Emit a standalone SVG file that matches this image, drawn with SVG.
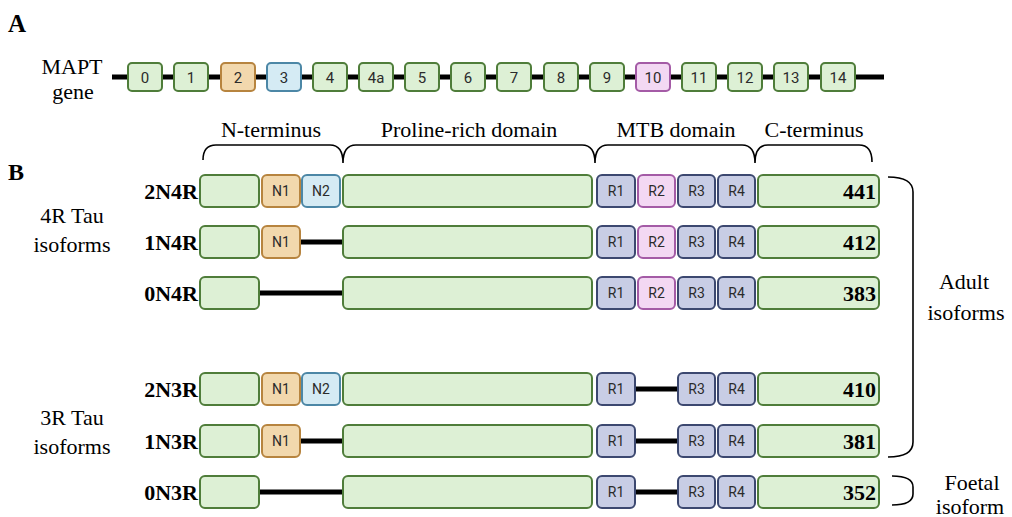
<svg xmlns="http://www.w3.org/2000/svg" width="1012" height="517" viewBox="0 0 1012 517">
<style>
.serif{font-family:"Liberation Serif","Times New Roman",serif;fill:#000}
.lbl{font-size:22px}
.bold{font-weight:bold}
.sans{font-family:Roboto,"Liberation Sans",Arial,sans-serif;font-size:15px;fill:#2b2b2b;text-anchor:middle}
.sm{font-size:14px}
.g{fill:#ddf0d5;stroke:#4f7d3a;stroke-width:2}
.o{fill:#f2d8ad;stroke:#b7843f;stroke-width:2}
.b{fill:#d5ebf4;stroke:#4c87a6;stroke-width:2}
.p{fill:#f3d8f3;stroke:#a45ba6;stroke-width:2}
.r{fill:#c8cde5;stroke:#3c4870;stroke-width:2}
.line{stroke:#000;stroke-width:5;fill:none}
.brace{stroke:#000;stroke-width:1.6;fill:none}
</style>

<text class="serif bold" x="8" y="32" font-size="25">A</text>
<text class="serif bold" x="8" y="180" font-size="24">B</text>

<g id="gene">
<text class="serif lbl" x="72" y="74" text-anchor="middle">MAPT</text>
<text class="serif lbl" x="73" y="99" text-anchor="middle">gene</text>
<line class="line" x1="112" y1="77" x2="884" y2="77"/>
<g id="ex0"><rect class="g" x="128" y="63" width="34" height="28" rx="4"/><text class="sans" x="145" y="82.5">0</text></g>
<g id="ex1"><rect class="g" x="174" y="63" width="34" height="28" rx="4"/><text class="sans" x="191" y="82.5">1</text></g>
<g id="ex2"><rect class="o" x="221" y="63" width="34" height="28" rx="4"/><text class="sans" x="238" y="82.5">2</text></g>
<g id="ex3"><rect class="b" x="267" y="63" width="34" height="28" rx="4"/><text class="sans" x="284" y="82.5">3</text></g>
<g id="ex4"><rect class="g" x="313" y="63" width="34" height="28" rx="4"/><text class="sans" x="330" y="82.5">4</text></g>
<g id="ex4a"><rect class="g" x="359" y="63" width="34" height="28" rx="4"/><text class="sans" x="376" y="82.5">4a</text></g>
<g id="ex5"><rect class="g" x="405" y="63" width="34" height="28" rx="4"/><text class="sans" x="422" y="82.5">5</text></g>
<g id="ex6"><rect class="g" x="451" y="63" width="34" height="28" rx="4"/><text class="sans" x="468" y="82.5">6</text></g>
<g id="ex7"><rect class="g" x="497" y="63" width="34" height="28" rx="4"/><text class="sans" x="514" y="82.5">7</text></g>
<g id="ex8"><rect class="g" x="544" y="63" width="34" height="28" rx="4"/><text class="sans" x="561" y="82.5">8</text></g>
<g id="ex9"><rect class="g" x="590" y="63" width="34" height="28" rx="4"/><text class="sans" x="607" y="82.5">9</text></g>
<g id="ex10"><rect class="p" x="636" y="63" width="34" height="28" rx="4"/><text class="sans" x="653" y="82.5">10</text></g>
<g id="ex11"><rect class="g" x="682" y="63" width="34" height="28" rx="4"/><text class="sans" x="699" y="82.5">11</text></g>
<g id="ex12"><rect class="g" x="728" y="63" width="34" height="28" rx="4"/><text class="sans" x="745" y="82.5">12</text></g>
<g id="ex13"><rect class="g" x="774" y="63" width="34" height="28" rx="4"/><text class="sans" x="791" y="82.5">13</text></g>
<g id="ex14"><rect class="g" x="821" y="63" width="34" height="28" rx="4"/><text class="sans" x="838" y="82.5">14</text></g>
</g>

<g id="domains">
<text class="serif lbl" x="271" y="137" text-anchor="middle">N-terminus</text>
<text class="serif lbl" x="469" y="137" text-anchor="middle">Proline-rich domain</text>
<text class="serif lbl" x="676" y="137" text-anchor="middle">MTB domain</text>
<text class="serif lbl" x="814" y="137" text-anchor="middle">C-terminus</text>
<path class="brace" d="M203,160 Q203,145 216,145 H330 Q343,145 343,163 Q343,145 356,145 H582 Q595,145 595,163 Q595,145 608,145 H742 Q755,145 755,163 Q755,145 768,145 H859 Q872,145 872,162"/>
</g>

<g id="side-labels">
<text class="serif lbl" x="72" y="223" text-anchor="middle">4R Tau</text>
<text class="serif lbl" x="72" y="252" text-anchor="middle">isoforms</text>
<text class="serif lbl" x="72" y="425" text-anchor="middle">3R Tau</text>
<text class="serif lbl" x="72" y="454" text-anchor="middle">isoforms</text>
<text class="serif lbl" x="964" y="289" text-anchor="middle">Adult</text>
<text class="serif lbl" x="966" y="320" text-anchor="middle">isoforms</text>
<text class="serif lbl" x="972" y="490" text-anchor="middle">Foetal</text>
<text class="serif lbl" x="970" y="514" text-anchor="middle">isoform</text>
</g>

<g id="connectors">
<line class="line" x1="300" y1="242" x2="343" y2="242"/>
<line class="line" x1="259" y1="293" x2="343" y2="293"/>
<line class="line" x1="635" y1="389" x2="678" y2="389"/>
<line class="line" x1="300" y1="441" x2="343" y2="441"/>
<line class="line" x1="635" y1="441" x2="678" y2="441"/>
<line class="line" x1="259" y1="492" x2="343" y2="492"/>
<line class="line" x1="635" y1="492" x2="678" y2="492"/>
<path class="brace" d="M888,177 Q913,177 913,192 V442 Q913,457 888,457"/>
<path class="brace" d="M892,476 Q913,476 913,487 V494 Q913,505 892,505"/>
</g>

<g id="iso-2N4R">
<text class="serif lbl bold" x="198" y="199" text-anchor="end">2N4R</text>
<rect class="g" x="200" y="175" width="59" height="32" rx="5"/>
<rect class="o" x="262" y="175" width="38" height="32" rx="5"/><text class="sans sm" x="281" y="196">N1</text>
<rect class="b" x="302" y="175" width="38" height="32" rx="5"/><text class="sans sm" x="321" y="196">N2</text>
<rect class="g" x="343" y="175" width="249" height="32" rx="5"/>
<rect class="r" x="597" y="175" width="38" height="32" rx="5"/><text class="sans sm" x="616" y="196">R1</text>
<rect class="p" x="638" y="175" width="37" height="32" rx="5"/><text class="sans sm" x="656.5" y="196">R2</text>
<rect class="r" x="678" y="175" width="37" height="32" rx="5"/><text class="sans sm" x="696.5" y="196">R3</text>
<rect class="r" x="718" y="175" width="37" height="32" rx="5"/><text class="sans sm" x="736.5" y="196">R4</text>
<rect class="g" x="758" y="175" width="121" height="32" rx="5"/>
<text class="serif lbl bold" x="876" y="199" text-anchor="end">441</text>
</g>

<g id="iso-1N4R">
<text class="serif lbl bold" x="198" y="250" text-anchor="end">1N4R</text>
<rect class="g" x="200" y="226" width="59" height="32" rx="5"/>
<rect class="o" x="262" y="226" width="38" height="32" rx="5"/><text class="sans sm" x="281" y="247">N1</text>
<rect class="g" x="343" y="226" width="249" height="32" rx="5"/>
<rect class="r" x="597" y="226" width="38" height="32" rx="5"/><text class="sans sm" x="616" y="247">R1</text>
<rect class="p" x="638" y="226" width="37" height="32" rx="5"/><text class="sans sm" x="656.5" y="247">R2</text>
<rect class="r" x="678" y="226" width="37" height="32" rx="5"/><text class="sans sm" x="696.5" y="247">R3</text>
<rect class="r" x="718" y="226" width="37" height="32" rx="5"/><text class="sans sm" x="736.5" y="247">R4</text>
<rect class="g" x="758" y="226" width="121" height="32" rx="5"/>
<text class="serif lbl bold" x="876" y="250" text-anchor="end">412</text>
</g>

<g id="iso-0N4R">
<text class="serif lbl bold" x="198" y="301" text-anchor="end">0N4R</text>
<rect class="g" x="200" y="277" width="59" height="32" rx="5"/>
<rect class="g" x="343" y="277" width="249" height="32" rx="5"/>
<rect class="r" x="597" y="277" width="38" height="32" rx="5"/><text class="sans sm" x="616" y="298">R1</text>
<rect class="p" x="638" y="277" width="37" height="32" rx="5"/><text class="sans sm" x="656.5" y="298">R2</text>
<rect class="r" x="678" y="277" width="37" height="32" rx="5"/><text class="sans sm" x="696.5" y="298">R3</text>
<rect class="r" x="718" y="277" width="37" height="32" rx="5"/><text class="sans sm" x="736.5" y="298">R4</text>
<rect class="g" x="758" y="277" width="121" height="32" rx="5"/>
<text class="serif lbl bold" x="876" y="301" text-anchor="end">383</text>
</g>

<g id="iso-2N3R">
<text class="serif lbl bold" x="198" y="397" text-anchor="end">2N3R</text>
<rect class="g" x="200" y="373" width="59" height="32" rx="5"/>
<rect class="o" x="262" y="373" width="38" height="32" rx="5"/><text class="sans sm" x="281" y="394">N1</text>
<rect class="b" x="302" y="373" width="38" height="32" rx="5"/><text class="sans sm" x="321" y="394">N2</text>
<rect class="g" x="343" y="373" width="249" height="32" rx="5"/>
<rect class="r" x="597" y="373" width="38" height="32" rx="5"/><text class="sans sm" x="616" y="394">R1</text>
<rect class="r" x="678" y="373" width="37" height="32" rx="5"/><text class="sans sm" x="696.5" y="394">R3</text>
<rect class="r" x="718" y="373" width="37" height="32" rx="5"/><text class="sans sm" x="736.5" y="394">R4</text>
<rect class="g" x="758" y="373" width="121" height="32" rx="5"/>
<text class="serif lbl bold" x="876" y="397" text-anchor="end">410</text>
</g>

<g id="iso-1N3R">
<text class="serif lbl bold" x="198" y="449" text-anchor="end">1N3R</text>
<rect class="g" x="200" y="425" width="59" height="32" rx="5"/>
<rect class="o" x="262" y="425" width="38" height="32" rx="5"/><text class="sans sm" x="281" y="446">N1</text>
<rect class="g" x="343" y="425" width="249" height="32" rx="5"/>
<rect class="r" x="597" y="425" width="38" height="32" rx="5"/><text class="sans sm" x="616" y="446">R1</text>
<rect class="r" x="678" y="425" width="37" height="32" rx="5"/><text class="sans sm" x="696.5" y="446">R3</text>
<rect class="r" x="718" y="425" width="37" height="32" rx="5"/><text class="sans sm" x="736.5" y="446">R4</text>
<rect class="g" x="758" y="425" width="121" height="32" rx="5"/>
<text class="serif lbl bold" x="876" y="449" text-anchor="end">381</text>
</g>

<g id="iso-0N3R">
<text class="serif lbl bold" x="198" y="500" text-anchor="end">0N3R</text>
<rect class="g" x="200" y="476" width="59" height="32" rx="5"/>
<rect class="g" x="343" y="476" width="249" height="32" rx="5"/>
<rect class="r" x="597" y="476" width="38" height="32" rx="5"/><text class="sans sm" x="616" y="497">R1</text>
<rect class="r" x="678" y="476" width="37" height="32" rx="5"/><text class="sans sm" x="696.5" y="497">R3</text>
<rect class="r" x="718" y="476" width="37" height="32" rx="5"/><text class="sans sm" x="736.5" y="497">R4</text>
<rect class="g" x="758" y="476" width="121" height="32" rx="5"/>
<text class="serif lbl bold" x="876" y="500" text-anchor="end">352</text>
</g>
</svg>
